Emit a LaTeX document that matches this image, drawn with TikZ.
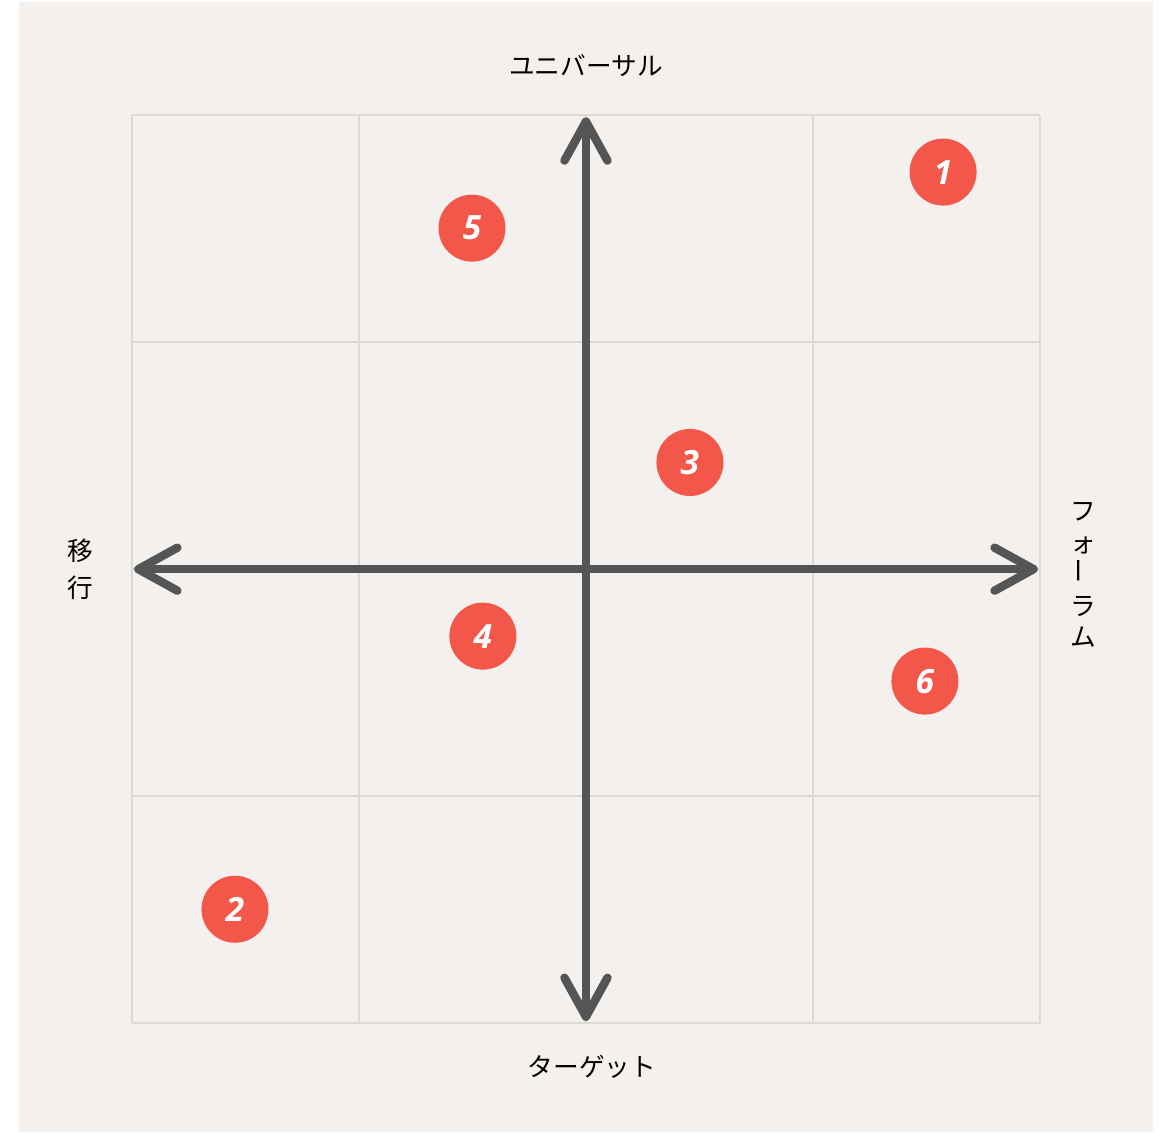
\documentclass[tikz,border=0pt]{standalone}
\usepackage{fontspec}
\setmainfont{Noto Sans CJK JP}
\newfontfamily\numfont{Open Sans}
\usepackage{tikz}
\usetikzlibrary{arrows.meta}

\definecolor{paper}{HTML}{F3F0ED}
\definecolor{gridline}{HTML}{DCDAD7}
\definecolor{axisgray}{HTML}{555555}
\definecolor{dotred}{HTML}{F2574A}

\begin{document}
\begin{tikzpicture}[x=4.54cm, y=4.54cm,
  label/.style={font=\fontsize{14.6}{18}\selectfont, inner sep=0pt},
  axisline/.style={draw=axisgray, line width=4.8pt, line cap=round,
    {Straight Barb[round, length=0.78cm, width=0.86cm]}-{Straight Barb[round, length=0.78cm, width=0.86cm]}},
  dot/.style={circle, fill=dotred, minimum size=1.34cm, inner sep=0pt,
    text=white, font=\numfont\bfseries\itshape\fontsize{19}{19}\selectfont}]
\useasboundingbox (-2.581,-2.480) rectangle (2.524,2.507);
\fill[paper] (-2.498,-2.480) rectangle (2.498,2.498);
% grid
\draw[gridline, line width=1.1pt, step=4.54cm] (-2,-2) grid (2,2);
% axes
\coordinate (left) at (-1.99,0);
\coordinate (right) at (1.99,0);
\coordinate (top) at (0,1.99);
\coordinate (bottom) at (0,-1.99);
\draw[axisline] (left) -- (right);
\draw[axisline] (bottom) -- (top);
% axis labels
\node[label] (universal) at (0,2.216) {ユニバーサル};
\node[label] (target) at (0.026,-2.194) {ターゲット};
\node[label, align=center, font=\fontsize{14.6}{21}\selectfont] (transition) at (-2.229,0) {移\\行};
\node[label, align=center] (forum) at (2.19,-0.026) {フ\\ォ\\\rotatebox{90}{ー}\\ラ\\ム};
% items
\node[dot] (p1) at (1.573,1.749) {1};
\node[dot] (p2) at (-1.546,-1.498) {2};
\node[dot] (p3) at (0.458,0.47) {3};
\node[dot] (p4) at (-0.454,-0.295) {4};
\node[dot] (p5) at (-0.502,1.502) {5};
\node[dot] (p6) at (1.493,-0.493) {6};
\end{tikzpicture}
\end{document}
